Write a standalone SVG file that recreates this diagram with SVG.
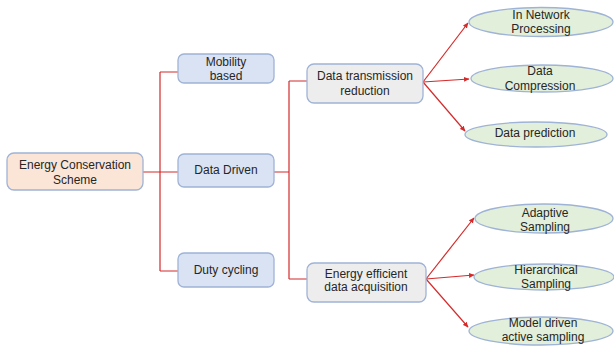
<svg xmlns="http://www.w3.org/2000/svg" width="614" height="349" viewBox="0 0 614 349">
<defs>
<marker id="ah" markerWidth="6" markerHeight="6" refX="5" refY="3" orient="auto" markerUnits="userSpaceOnUse">
<path d="M0,0.5 L5.5,3 L0,5.5 Z" fill="#d42a2a"/>
</marker>
<style>
text{font-family:"Liberation Sans",Arial,sans-serif;font-size:12px;fill:#262626;text-anchor:middle}
.box{stroke:#9fb3d6;stroke-width:1.3}
.root{fill:#fbe5d6}
.blue{fill:#dae3f3}
.gray{fill:#ededed}
.ell{fill:#e2efda;stroke:#9fb3d6;stroke-width:1.3}
.ln{fill:none;stroke:#d42a2a;stroke-width:1.2}
</style>
</defs>
<rect width="614" height="349" fill="#ffffff"/>
<g id="connectors">
<path class="ln" d="M143,172 H160 M160,72 V271 M160,72 H178 M160,172 H178 M160,271 H178"/>
<path class="ln" d="M274,172 H289 M289,81 V279 M289,81 H307 M289,279 H307"/>
<line class="ln" x1="423" y1="82" x2="468" y2="23" marker-end="url(#ah)"/>
<line class="ln" x1="423" y1="82" x2="469" y2="79" marker-end="url(#ah)"/>
<line class="ln" x1="423" y1="82" x2="465" y2="131" marker-end="url(#ah)"/>
<line class="ln" x1="426" y1="279" x2="474" y2="218" marker-end="url(#ah)"/>
<line class="ln" x1="426" y1="279" x2="474" y2="275" marker-end="url(#ah)"/>
<line class="ln" x1="426" y1="279" x2="468" y2="327" marker-end="url(#ah)"/>
</g>
<g id="energy-conservation-scheme">
<rect class="box root" x="7" y="153" width="136" height="37" rx="7"/>
<text x="75" y="169">Energy Conservation</text>
<text x="75" y="184">Scheme</text>
</g>
<g id="mobility-based">
<rect class="box blue" x="178" y="54" width="96" height="29" rx="6"/>
<text x="226" y="66">Mobility</text>
<text x="226" y="80">based</text>
</g>
<g id="data-driven">
<rect class="box blue" x="178" y="154" width="96" height="33" rx="6"/>
<text x="226" y="174">Data Driven</text>
</g>
<g id="duty-cycling">
<rect class="box blue" x="178" y="253" width="96" height="34" rx="6"/>
<text x="226" y="274">Duty cycling</text>
</g>
<g id="data-transmission-reduction">
<rect class="box gray" x="307" y="64" width="116" height="39" rx="7"/>
<text x="365" y="80">Data transmission</text>
<text x="365" y="95">reduction</text>
</g>
<g id="energy-efficient-data-acquisition">
<rect class="box gray" x="307" y="263" width="119" height="39" rx="7"/>
<text x="366" y="278">Energy efficient</text>
<text x="366" y="291">data acquisition</text>
</g>
<g id="in-network-processing">
<ellipse class="ell" cx="541" cy="22" rx="72" ry="14.5"/>
<text x="541" y="19">In Network</text>
<text x="541" y="33">Processing</text>
</g>
<g id="data-compression">
<ellipse class="ell" cx="542" cy="78.5" rx="71" ry="13.5"/>
<text x="540" y="75">Data</text>
<text x="540" y="90">Compression</text>
</g>
<g id="data-prediction">
<ellipse class="ell" cx="536" cy="134.5" rx="71" ry="12.5"/>
<text x="535" y="137">Data prediction</text>
</g>
<g id="adaptive-sampling">
<ellipse class="ell" cx="544" cy="218.5" rx="69" ry="14.5"/>
<text x="545" y="217">Adaptive</text>
<text x="545" y="231">Sampling</text>
</g>
<g id="hierarchical-sampling">
<ellipse class="ell" cx="544" cy="277" rx="70" ry="13"/>
<text x="546" y="274">Hierarchical</text>
<text x="546" y="288">Sampling</text>
</g>
<g id="model-driven-active-sampling">
<ellipse class="ell" cx="541" cy="331" rx="72" ry="14"/>
<text x="543" y="327">Model driven</text>
<text x="543" y="341">active sampling</text>
</g>
</svg>
